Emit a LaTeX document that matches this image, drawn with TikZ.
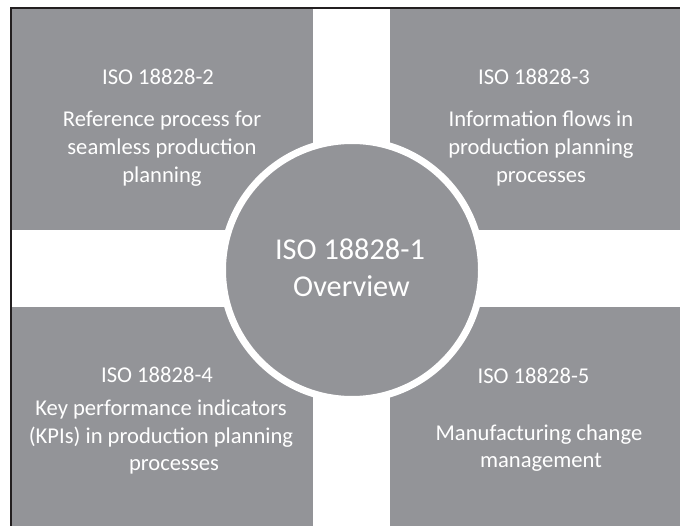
\documentclass[tikz,border=0pt]{standalone}
\usepackage{fontspec}
\setmainfont{Carlito}
\definecolor{panel}{RGB}{147,148,152}
\definecolor{framecol}{RGB}{35,31,32}
\begin{document}
\begin{tikzpicture}[x=1pt,y=-1pt,
  panelbox/.style={fill=panel},
  label/.style={anchor=base,text=white,inner sep=0pt,
    font=\fontsize{22.6}{27.6}\selectfont},
  hublabel/.style={anchor=base,text=white,inner sep=0pt,
    font=\fontsize{30.3}{37}\selectfont},
  hub/.style={circle,fill=panel,draw=white,line width=7pt,
    minimum size=259pt,inner sep=0pt}]
  \useasboundingbox[fill=white] (0,0) rectangle (680,526);

  % four quadrant panels
  \fill[panelbox] (12,9) rectangle (313,230);
  \fill[panelbox] (390,9) rectangle (680,230);
  \fill[panelbox] (12,307) rectangle (313,526);
  \fill[panelbox] (390,307) rectangle (680,526);

  % outer frame (top and left edges)
  \draw[framecol,line width=2pt] (11,526) -- (11,8) -- (680,8);

  % central hub
  \node[hub] (hub) at (352,270) {};
  \node[hublabel] (hubA) at (350,260) {ISO 18828-1};
  \node[hublabel] (hubB) at (351.5,297) {Overview};

  % top left
  \node[label] (tlA) at (158,85) {ISO 18828-2};
  \node[label] (tlB) at (162,127) {Reference process for};
  \node[label] (tlC) at (162,155) {seamless production};
  \node[label] (tlD) at (162,183) {planning};

  % top right
  \node[label] (trA) at (534,85) {ISO 18828-3};
  \node[label] (trB) at (541,127) {Information flows in};
  \node[label] (trC) at (541,155) {production planning};
  \node[label] (trD) at (541,183) {processes};

  % bottom left
  \node[label] (blA) at (157,383) {ISO 18828-4};
  \node[label] (blB) at (161,415) {Key performance indicators};
  \node[label] (blC) at (161,443) {(KPIs) in production planning};
  \node[label] (blD) at (174,470) {processes};

  % bottom right
  \node[label] (brA) at (533.5,384) {ISO 18828-5};
  \node[label] (brB) at (539,440) {Manufacturing change};
  \node[label] (brC) at (541,467) {management};
\end{tikzpicture}
\end{document}
